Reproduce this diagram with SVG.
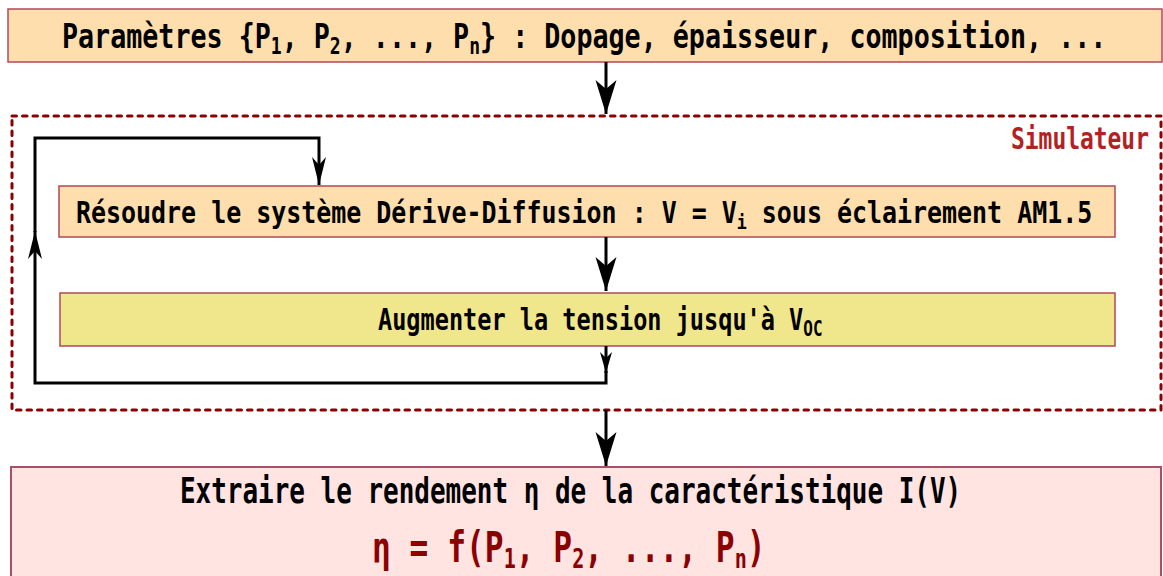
<svg xmlns="http://www.w3.org/2000/svg" width="1163" height="576" viewBox="0 0 1163 576">
<style>
text{font-family:"DejaVu Sans Mono","Liberation Mono",monospace;font-weight:bold;fill:#000}
.box{stroke:#b04858;stroke-width:1.5}
.conn{fill:none;stroke:#000;stroke-width:3}
</style>
<defs>
<marker id="big" markerUnits="userSpaceOnUse" viewBox="-34 -12 36 24" refX="0" refY="0" markerWidth="36" markerHeight="24" orient="auto" overflow="visible">
<path d="M0,0 L-34,-10.5 L-25,0 L-34,10.5 Z" fill="#000"/>
</marker>
<marker id="mid" markerUnits="userSpaceOnUse" viewBox="-30 -8 32 16" refX="0" refY="0" markerWidth="32" markerHeight="16" orient="auto" overflow="visible">
<path d="M0,0 L-28,-7 L-20,0 L-28,7 Z" fill="#000"/>
</marker>
<marker id="small" markerUnits="userSpaceOnUse" viewBox="-22 -7 24 14" refX="0" refY="0" markerWidth="24" markerHeight="14" orient="auto" overflow="visible">
<path d="M0,0 L-21,-6 L-15,0 L-21,6 Z" fill="#000"/>
</marker>
</defs>
<rect width="1163" height="576" fill="#fff"/>

<g id="simulateur">
<rect x="12" y="116" width="1149" height="294" fill="none" stroke="#8B0000" stroke-width="3" stroke-dasharray="4.5 6" stroke-linecap="round"/>
<text transform="translate(1011,149) scale(0.764,1)" font-size="30" style="fill:#B22222">Simulateur</text>
</g>

<g id="parametres">
<rect class="box" x="8" y="9" width="1154" height="53" fill="#FFDEAD"/>
<text transform="translate(62,48) scale(0.785,1)" font-size="34">Paramètres {P<tspan font-size="23" dy="6">1</tspan><tspan dy="-6">, P</tspan><tspan font-size="23" dy="6">2</tspan><tspan dy="-6">, ..., P</tspan><tspan font-size="23" dy="6">n</tspan><tspan dy="-6">} : Dopage, épaisseur, composition, ...</tspan></text>
</g>

<g id="resoudre">
<rect class="box" x="59" y="186" width="1056" height="51" fill="#FFDEAD"/>
<text transform="translate(76,223) scale(0.832,1)" font-size="30">Résoudre le système Dérive-Diffusion : V = V<tspan font-size="20" dy="6">i</tspan><tspan dy="-6"> sous éclairement AM1.5</tspan></text>
</g>

<g id="augmenter">
<rect class="box" x="60" y="293" width="1055" height="53" fill="#F0E68C"/>
<text transform="translate(378,330) scale(0.76,1)" font-size="31">Augmenter la tension jusqu'à V<tspan font-size="21" dy="6">OC</tspan></text>
</g>

<g id="extraire">
<rect x="11" y="467" width="1150" height="125" fill="#FFE4E1" stroke="#a85068" stroke-width="2"/>
<text transform="translate(180,503) scale(0.742,1)" font-size="35">Extraire le rendement η de la caractéristique I(V)</text>
<text transform="translate(372,562) scale(0.744,1)" font-size="42" style="fill:#8B0000">η = f(P<tspan font-size="27" dy="6">1</tspan><tspan dy="-6">, P</tspan><tspan font-size="27" dy="6">2</tspan><tspan dy="-6">, ..., P</tspan><tspan font-size="27" dy="6">n</tspan><tspan dy="-6">)</tspan></text>
</g>

<g id="connectors">
<path class="conn" d="M606,62 V114" marker-end="url(#big)"/>
<path class="conn" d="M606,237 V291" marker-end="url(#big)"/>
<path class="conn" d="M606,346 V373" marker-end="url(#small)"/>
<path class="conn" d="M606,371 V383 H35 V231" marker-end="url(#mid)"/>
<path class="conn" d="M35,232 V138 H319 V185" marker-end="url(#mid)"/>
<path class="conn" d="M606,410 V466" marker-end="url(#big)"/>
</g>
</svg>
